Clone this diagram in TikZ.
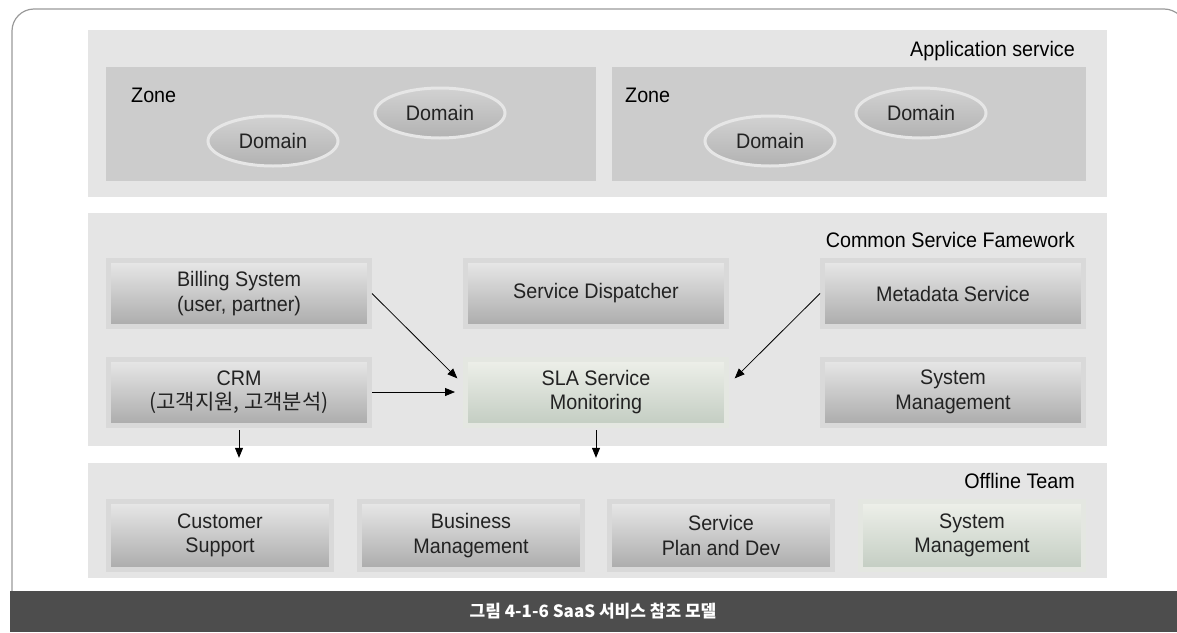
\documentclass[tikz,border=0pt]{standalone}
\usepackage{fontspec}
\setmainfont{Liberation Sans}[FakeStretch=0.94]
\newfontfamily\kr{Noto Sans CJK KR}
\usetikzlibrary{arrows.meta,shapes.geometric,calc}

\definecolor{panelgray}{HTML}{E5E5E5}
\definecolor{zonegray}{HTML}{CCCCCC}
\definecolor{rimgray}{HTML}{D9D9D9}
\definecolor{boxtop}{HTML}{E8E8E8}
\definecolor{boxbot}{HTML}{ABABAB}
\definecolor{greentop}{HTML}{EEF0EA}
\definecolor{greenbot}{HTML}{C3CDC2}
\definecolor{greenrim}{HTML}{E4E7E1}
\definecolor{domaintop}{HTML}{D2D2D2}
\definecolor{domainbot}{HTML}{B2B2B2}
\definecolor{domainrim}{HTML}{E6E6E6}
\definecolor{capgray}{HTML}{4D4D4D}
\definecolor{framegray}{HTML}{9A9A9A}
\definecolor{labelgray}{HTML}{222222}

\newcommand{\boxfont}{\fontsize{21}{24.5}\selectfont}

\tikzset{
    panel/.style={fill=panelgray, inner sep=0pt},
    zonebg/.style={fill=zonegray, inner sep=0pt},
    tierbox/.style={draw=rimgray, line width=5pt, top color=boxtop, bottom color=boxbot,
        minimum width=261pt, minimum height=66pt, align=center, text=labelgray, font=\boxfont},
    greenbox/.style={tierbox, draw=greenrim, top color=greentop, bottom color=greenbot},
    teambox/.style={minimum width=223pt, minimum height=68pt},
    domainnode/.style={ellipse, draw=domainrim, line width=3pt, top color=domaintop, bottom color=domainbot,
        minimum width=130pt, minimum height=50pt, inner sep=1pt, text=labelgray, font=\boxfont},
    titlelabel/.style={anchor=base east, inner sep=0pt, font=\boxfont},
}

\begin{document}
\begin{tikzpicture}[x=1pt, y=-1pt]
    \useasboundingbox (0,0) rectangle (1177,632);
    \draw[framegray, line width=1.2pt, rounded corners=22pt] (12,591) -- (12,9) -- (1186,9) -- (1186,591);
    \fill[capgray] (10,591) rectangle (1177,632);
    \node[text=white, font={\kr\bfseries\fontsize{17}{20}\selectfont}] (cap) at (593,611.5) {그림 4-1-6 SaaS 서비스 참조 모델};

    \path
    (597.5,113.5) node[panel, minimum width=1019pt, minimum height=167pt](app){}
    (597.5,329.5) node[panel, minimum width=1019pt, minimum height=233pt](csf){}
    (597.5,520.5) node[panel, minimum width=1019pt, minimum height=115pt](off){}
    (351,124) node[zonebg, minimum width=490pt, minimum height=114pt](zonea){}
    (849,124) node[zonebg, minimum width=474pt, minimum height=114pt](zoneb){}
    ;
    \path
    (1075,56) node[titlelabel](apptitle){Application service}
    (1075,247) node[titlelabel](csftitle){Common Service Famework}
    (1075,488) node[titlelabel](offtitle){Offline Team}
    (131,102) node[titlelabel, anchor=base west](zonealabel){Zone}
    (625,102) node[titlelabel, anchor=base west](zoneblabel){Zone}
    ;
    \path
    (273,141) node[domainnode](doma){Domain}
    (440,113) node[domainnode](domb){Domain}
    (770,141) node[domainnode](domc){Domain}
    (921,113) node[domainnode](domd){Domain}
    ;
    \path
    (239,293.5) node[tierbox](bill){Billing System\\(user, partner)}
    (596,293.5) node[tierbox](disp){Service Dispatcher}
    (953,293.5) node[tierbox](meta){Metadata Service}
    (239,392) node[tierbox](crm){CRM\\{\kr(고객지원, 고객분석)}}
    (596,392) node[greenbox](sla){SLA Service\\Monitoring}
    (953,392) node[tierbox](sysm){System\\Management}
    ;
    \path
    (220,535.5) node[tierbox, teambox](cust){Customer\\Support}
    (471,535.5) node[tierbox, teambox](biz){Business\\Management}
    (721,535.5) node[tierbox, teambox](plan){Service\\Plan and Dev}
    (972,535.5) node[greenbox, teambox](offsys){System\\Management}
    ;
    \begin{scope}[
        every edge/.style={-{Stealth[length=10pt, width=8pt, inset=0pt]}, draw=black, line width=0.8pt}]
        \path (bill.east) edge[shorten >=8pt] ($(sla.west)+(0,-8)$);
        \path (crm.east) edge[shorten >=8pt] (sla.west);
        \path (meta.west) edge[shorten >=8pt] ($(sla.east)+(0,-8)$);
        \path (crm.south) edge[shorten <=2.5pt, shorten >=5pt] (crm.south |- off.north);
        \path (sla.south) edge[shorten <=2.5pt, shorten >=5pt] (sla.south |- off.north);
    \end{scope}
\end{tikzpicture}
\end{document}
